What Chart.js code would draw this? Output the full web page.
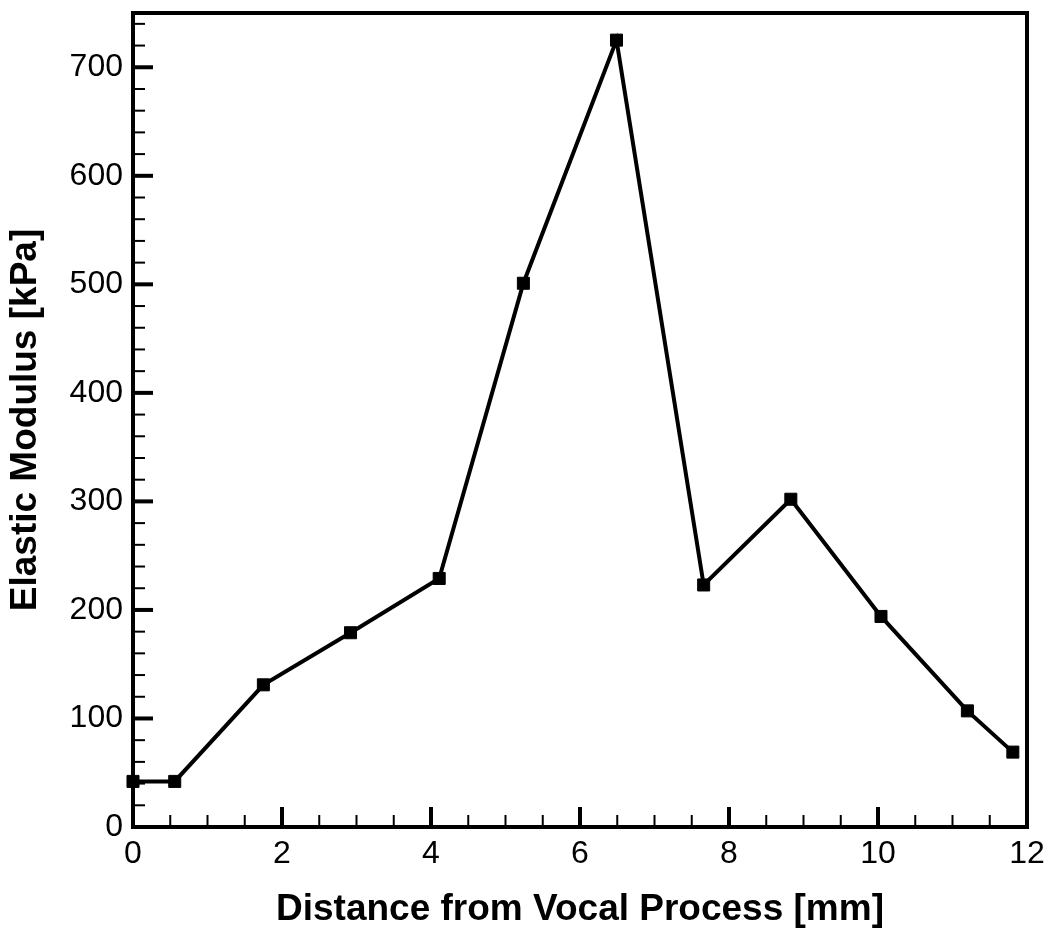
<!DOCTYPE html>
<html lang="en">
<head>
    <meta charset="UTF-8">
    <title>Elastic Modulus</title>
    <script src="https://cdn.jsdelivr.net/npm/chart.js"></script>
    <style>
        html, body { margin: 0; padding: 0; background: #fff; }
        #wrap { width: 1050px; height: 936px; }
    </style>
</head>
<body>
    <div id="wrap"><canvas id="chart" width="1050" height="936"></canvas></div>
    <script>
        // data
        const distance = [0, 0.56, 1.75, 2.92, 4.11, 5.24, 6.49, 7.66, 8.83, 10.04, 11.2, 11.81];
        const modulus = [42, 42, 131, 179, 229, 501, 725, 223, 302, 194, 107, 69];

        const xMin = 0, xMax = 12, xMajor = 2, xMinor = 0.5;
        const yMin = 0, yMax = 750, yMajor = 100, yMinor = 20;

        // frame + inward tick marks (left and bottom only)
        const framePlugin = {
            id: 'frame',
            beforeDatasetsDraw(chart) {
                const ctx = chart.ctx;
                const a = chart.chartArea;
                const xs = chart.scales.x, ys = chart.scales.y;
                ctx.save();
                ctx.strokeStyle = '#000';

                for (let v = xMin; v <= xMax + 1e-9; v += xMinor) {
                    const px = xs.getPixelForValue(v);
                    const major = Math.abs(v / xMajor - Math.round(v / xMajor)) < 1e-6;
                    const len = major ? 20 : 12;
                    ctx.lineWidth = major ? 4 : 2;
                    ctx.beginPath();
                    ctx.moveTo(px, a.bottom);
                    ctx.lineTo(px, a.bottom - len);
                    ctx.stroke();
                }
                for (let v = yMin; v <= yMax + 1e-9; v += yMinor) {
                    const py = ys.getPixelForValue(v);
                    const major = v % yMajor === 0;
                    const len = major ? 20 : 12;
                    ctx.lineWidth = major ? 4 : 2;
                    ctx.beginPath();
                    ctx.moveTo(a.left, py);
                    ctx.lineTo(a.left + len, py);
                    ctx.stroke();
                }

                ctx.lineWidth = 4;
                ctx.strokeRect(a.left, a.top, a.right - a.left, a.bottom - a.top);
                ctx.restore();
            }
        };

        new Chart(document.getElementById('chart'), {
            type: 'line',
            data: {
                datasets: [{
                    data: distance.map((d, i) => ({ x: d, y: modulus[i] })),
                    borderColor: '#000',
                    backgroundColor: '#000',
                    borderWidth: 4,
                    pointStyle: 'rect',
                    pointRadius: 8.5,
                    pointBorderWidth: 1,
                    tension: 0,
                    clip: false
                }]
            },
            options: {
                responsive: false,
                animation: false,
                layout: { padding: { top: 13, right: 23, left: 0, bottom: 0 } },
                plugins: { legend: { display: false }, tooltip: { enabled: false } },
                scales: {
                    x: {
                        type: 'linear',
                        min: xMin,
                        max: xMax,
                        grid: { display: false, drawTicks: false },
                        border: { display: false },
                        ticks: {
                            stepSize: xMajor,
                            color: '#000',
                            padding: 8,
                            maxRotation: 0,
                            font: { family: 'Liberation Sans', size: 32 }
                        },
                        title: {
                            display: true,
                            text: 'Distance from Vocal Process [mm]',
                            color: '#000',
                            padding: { top: 10 },
                            font: { family: 'Liberation Sans', size: 37, weight: 'bold' }
                        },
                        afterFit(scale) {
                            scale.height = 109;
                            scale.paddingLeft = 0;
                            scale.paddingRight = 0;
                        }
                    },
                    y: {
                        type: 'linear',
                        min: yMin,
                        max: yMax,
                        grid: { display: false, drawTicks: false },
                        border: { display: false },
                        ticks: {
                            stepSize: yMajor,
                            color: '#000',
                            padding: 10,
                            callback: v => (v % yMajor === 0 ? v : ''),
                            font: { family: 'Liberation Sans', size: 32 }
                        },
                        title: {
                            display: true,
                            text: 'Elastic Modulus [kPa]',
                            color: '#000',
                            padding: { top: 4 },
                            font: { family: 'Liberation Sans', size: 37, weight: 'bold' }
                        },
                        afterFit(scale) {
                            scale.width = 133;
                            scale.paddingTop = 0;
                            scale.paddingBottom = 0;
                        }
                    }
                }
            },
            plugins: [framePlugin]
        });
    </script>
</body>
</html>
